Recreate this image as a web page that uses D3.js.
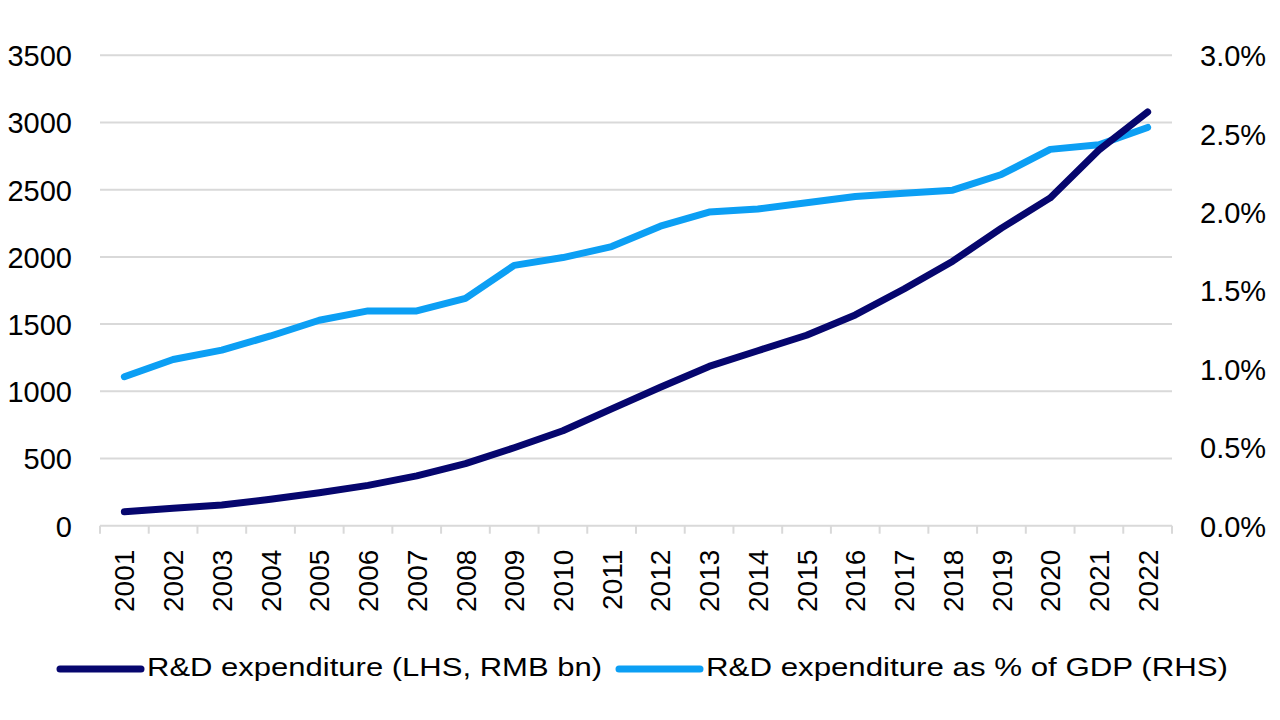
<!DOCTYPE html>
<html>
<head>
<meta charset="utf-8">
<script src="https://cdn.jsdelivr.net/npm/d3@7"></script>
<style>
  body { margin: 0; background: #fff; }
  text { font-family: "Liberation Sans", Arial, sans-serif; fill: #000; }
</style>
</head>
<body>
<div id="chart"></div>
<script>
"use strict"

// data
var years = ['2001', '2002', '2003', '2004', '2005', '2006', '2007', '2008', '2009', '2010', '2011',
             '2012', '2013', '2014', '2015', '2016', '2017', '2018', '2019', '2020', '2021', '2022'];
var rdSpend = [104, 129, 154, 197, 245, 300, 371, 462, 580, 706, 869,
               1030, 1185, 1302, 1417, 1568, 1761, 1968, 2214, 2439, 2796, 3078];
var rdShare = [0.0095, 0.0106, 0.0112, 0.0121, 0.0131, 0.0137, 0.0137, 0.0145, 0.0166, 0.0171, 0.0178,
               0.0191, 0.0200, 0.0202, 0.0206, 0.0210, 0.0212, 0.0214, 0.0224, 0.0240, 0.0243, 0.0254];
var leftTicks = [0, 500, 1000, 1500, 2000, 2500, 3000, 3500];
var rightTicks = [0, 0.005, 0.01, 0.015, 0.02, 0.025, 0.03];
var seriesNames = ['R&D expenditure (LHS, RMB bn)', 'R&D expenditure as % of GDP (RHS)'];

var darkBlue = '#06066e';
var lightBlue = '#0c9ff4';
var gridColor = '#d9d9d9';

// plot area
var margin = {top: 55.3, right: 108, bottom: 194.3, left: 100};
var W = 1280, H = 720;
var width = W - margin.left - margin.right;
var height = H - margin.top - margin.bottom;

var svg = d3.select("#chart")
    .append("svg")
    .attr("width", W)
    .attr("height", H)
    .style("display", "block");

svg.append("rect").attr("width", W).attr("height", H).attr("fill", "#fff");

var g = svg.append("g")
    .attr("transform", "translate(" + margin.left + "," + margin.top + ")");

var x = d3.scaleBand()
    .domain(years)
    .range([0, width])
    .padding(0);
var yL = d3.scaleLinear()
    .domain([0, 3500])
    .range([height, 0]);
var yR = d3.scaleLinear()
    .domain([0, 0.03])
    .range([height, 0]);

// horizontal grid lines
g.append("g")
    .selectAll("line")
    .data(leftTicks.slice(1))
    .enter()
    .append("line")
    .attr("x1", 0)
    .attr("x2", width)
    .attr("y1", function(d) { return yL(d); })
    .attr("y2", function(d) { return yL(d); })
    .attr("stroke", gridColor)
    .attr("stroke-width", 2);

// left axis labels
var left = g.append("g")
    .call(d3.axisLeft(yL).tickValues(leftTicks).tickSize(0).tickPadding(28)
        .tickFormat(d3.format("d")));
left.select(".domain").remove();
left.selectAll("text").style("font-size", "29px").attr("dy", "0.36em");

// right axis labels
var right = g.append("g")
    .attr("transform", "translate(" + width + ",0)")
    .call(d3.axisRight(yR).tickValues(rightTicks).tickSize(0).tickPadding(28)
        .tickFormat(d3.format(".1%")));
right.select(".domain").remove();
right.selectAll("text").style("font-size", "29px").attr("dy", "0.36em");

// bottom axis: baseline, band separator ticks, rotated year labels
var bottom = g.append("g")
    .attr("transform", "translate(0," + height + ")");
bottom.append("line")
    .attr("x1", 0).attr("x2", width)
    .attr("stroke", gridColor).attr("stroke-width", 2);
bottom.selectAll("line.sep")
    .data(years.map(function(d) { return x(d); }).concat([width]))
    .enter()
    .append("line")
    .attr("class", "sep")
    .attr("x1", function(d) { return d; })
    .attr("x2", function(d) { return d; })
    .attr("y1", 0)
    .attr("y2", 8)
    .attr("stroke", gridColor)
    .attr("stroke-width", 2);
var xAxis = bottom.append("g")
    .call(d3.axisBottom(x).tickSize(0));
xAxis.select(".domain").remove();
xAxis.selectAll("text")
    .style("font-size", "28px")
    .attr("transform", "rotate(-90)")
    .attr("x", -24)
    .attr("y", 0)
    .attr("dy", "0.36em")
    .style("text-anchor", "end");

// lines
var lineL = d3.line()
    .x(function(d, i) { return x(years[i]) + x.bandwidth() / 2; })
    .y(function(d) { return yL(d); });
var lineR = d3.line()
    .x(function(d, i) { return x(years[i]) + x.bandwidth() / 2; })
    .y(function(d) { return yR(d); });

g.append("path")
    .datum(rdShare)
    .attr("d", lineR)
    .attr("fill", "none")
    .attr("stroke", lightBlue)
    .attr("stroke-width", 7)
    .attr("stroke-linecap", "round")
    .attr("stroke-linejoin", "round");
g.append("path")
    .datum(rdSpend)
    .attr("d", lineL)
    .attr("fill", "none")
    .attr("stroke", darkBlue)
    .attr("stroke-width", 7)
    .attr("stroke-linecap", "round")
    .attr("stroke-linejoin", "round");

// legend
var legendItems = [
    {name: seriesNames[0], color: darkBlue, x: 60, len: 455},
    {name: seriesNames[1], color: lightBlue, x: 619, len: 522}
];
var legend = svg.append("g").attr("transform", "translate(0,669)");
var item = legend.selectAll("g")
    .data(legendItems)
    .enter()
    .append("g")
    .attr("transform", function(d) { return "translate(" + d.x + ",0)"; });
item.append("line")
    .attr("x1", 0).attr("x2", 81)
    .attr("stroke", function(d) { return d.color; })
    .attr("stroke-width", 7)
    .attr("stroke-linecap", "round");
item.append("text")
    .attr("x", 87)
    .attr("y", 7)
    .style("font-size", "26px")
    .attr("textLength", function(d) { return d.len; })
    .attr("lengthAdjust", "spacingAndGlyphs")
    .text(function(d) { return d.name; });
</script>
</body>
</html>
